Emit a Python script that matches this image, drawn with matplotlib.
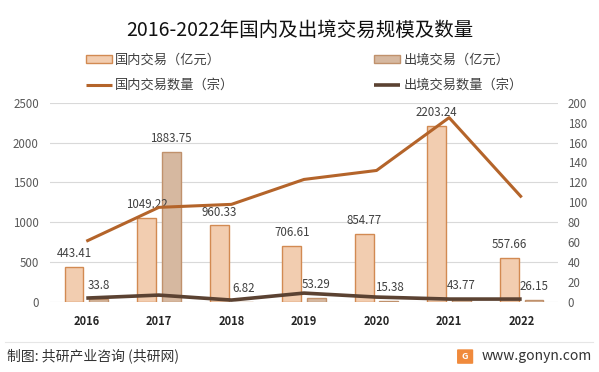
import matplotlib
matplotlib.use("Agg")
import matplotlib.pyplot as plt
import numpy as np
from matplotlib.patches import FancyBboxPatch

plt.rcParams['font.family'] = ['Noto Sans CJK SC', 'DejaVu Sans']

years = ['2016', '2017', '2018', '2019', '2020', '2021', '2022']
domestic_value = [443.41, 1049.22, 960.33, 706.61, 854.77, 2203.24, 557.66]
outbound_value = [33.8, 1883.75, 6.82, 53.29, 15.38, 43.77, 26.15]
domestic_count = [61, 95, 98, 123, 132, 185, 105]
outbound_count = [4, 7, 2, 9, 5, 3, 3]

left_ticks = [0, 500, 1000, 1500, 2000, 2500]
right_ticks = list(range(0, 201, 20))

c_dom_fill = '#F2CDB0'
c_dom_edge = '#D28A52'
c_out_fill = '#D6B8A0'
c_out_edge = '#C0916C'
c_dom_line = '#B4642A'
c_out_line = '#5B4232'
txt = '#404040'

fig = plt.figure(figsize=(5.99, 3.72), dpi=100)
ax = fig.add_axes([0.0835, 0.188, 0.848, 0.536])
ax2 = ax.twinx()

x = np.arange(len(years))
bw = 0.26
off = 0.17
b1 = ax.bar(x - off, domestic_value, bw, color=c_dom_fill, edgecolor=c_dom_edge, linewidth=1.0, zorder=2)
b2 = ax.bar(x + off, outbound_value, bw, color=c_out_fill, edgecolor=c_out_edge, linewidth=1.0, zorder=2)

for xi, v in zip(x, domestic_value):
    ax.annotate(f'{v:.2f}', (xi - off, v), xytext=(0, 5), textcoords='offset points',
                ha='center', va='bottom', fontsize=8.3, color=txt, zorder=5)
for xi, v in zip(x, outbound_value):
    ax.annotate(f'{v:g}', (xi + off, v), xytext=(0, 5), textcoords='offset points',
                ha='center', va='bottom', fontsize=8.3, color=txt, zorder=5)

ax.set_xlim(-0.5, len(years) - 0.5)
ax.set_ylim(0, 2500)
ax.set_yticks(left_ticks)
ax.set_xticks(x)
ax.set_xticklabels(years, fontsize=8, fontweight='bold', color='#262626')
ax.tick_params(axis='y', labelsize=8.3, colors='#595959', length=0, pad=8)
ax.tick_params(axis='x', length=0, pad=9)
ax.grid(axis='y', color='#D9D9D9', linewidth=0.8, zorder=0)
ax.set_axisbelow(True)
for s in ax.spines.values():
    s.set_visible(False)

l1, = ax2.plot(x, domestic_count, color=c_dom_line, linewidth=2.2, zorder=4, solid_capstyle='butt')
l2, = ax2.plot(x, outbound_count, color=c_out_line, linewidth=2.6, zorder=4, solid_capstyle='butt')
ax2.set_ylim(0, 200)
ax2.set_yticks(right_ticks)
ax2.tick_params(axis='y', labelsize=8.3, colors='#595959', length=0, pad=7)
for s in ax2.spines.values():
    s.set_visible(False)

fig.text(0.501, 0.919, '2016-2022年国内及出境交易规模及数量', ha='center', va='center', fontsize=14, color='#111111')

leg_kw = dict(loc='upper left', frameon=False, fontsize=9.5, handlelength=2.0, handleheight=0.55,
              labelspacing=0.95, handletextpad=0.25, borderpad=0, borderaxespad=0, labelcolor=txt)
leg1 = fig.legend(handles=[b1, l1], labels=['国内交易（亿元）', '国内交易数量（宗）'],
                  bbox_to_anchor=(0.143, 0.856), **leg_kw)
leg2 = fig.legend(handles=[b2, l2], labels=['出境交易（亿元）', '出境交易数量（宗）'],
                  bbox_to_anchor=(0.624, 0.856), **leg_kw)

# footer
fig.add_artist(plt.Line2D([0.008, 0.99], [0.081, 0.081], color='#E6E6E6', linewidth=0.8, transform=fig.transFigure))
fig.text(0.012, 0.043, '制图: 共研产业咨询 (共研网)', ha='left', va='center', fontsize=10, color='#333333')
fig.text(0.988, 0.043, 'www.gonyn.com', ha='right', va='center', fontsize=10, color='#333333')
fig.add_artist(FancyBboxPatch((0.765, 0.024), 0.023, 0.035, boxstyle='round,pad=0.002', transform=fig.transFigure,
                              facecolor='#F08A3C', edgecolor='none'))
fig.text(0.7765, 0.0415, 'G', ha='center', va='center', fontsize=6.5, fontweight='bold', color='white')

fig.savefig('out.png', dpi=100)
